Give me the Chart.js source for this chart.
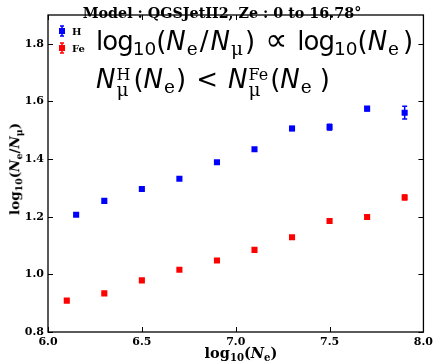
<!DOCTYPE html>
<html><head><meta charset="utf-8">
<script src="https://cdn.jsdelivr.net/npm/chart.js@4"></script>
<style>
html,body{margin:0;padding:0;background:#fff;}
#wrap{position:relative;width:437px;height:363px;overflow:hidden;background:#fff}
canvas{position:absolute;left:0;top:0}
.t{position:absolute;white-space:nowrap;color:#000;line-height:1}
#title{left:0;width:444px;text-align:center;top:5px;font:bold 14.3px "DejaVu Serif";}
.ser{font-family:"DejaVu Serif";font-weight:bold}
.ser .sb{font-size:0.7em;position:relative;top:0.3em}
.ann{font-family:"DejaVu Sans";font-size:26px;line-height:26px;left:96px}
.ann span{line-height:0;display:inline-block}
.ann i{font-style:italic}
.ann .lg{letter-spacing:-1px}
.ann .d{font-size:18.5px;position:relative;top:5px}
.ann .r{font-family:"DejaVu Serif";font-size:18.5px;position:relative;top:5px}
.ann .r2{font-family:"DejaVu Serif";font-size:18.5px;position:relative;top:8px}
.ann .up{font-family:"DejaVu Serif";font-size:16px;position:relative;top:-8px}
.ann .pr{font-size:31px}
#yt{left:15px;top:169px;transform:translate(-50%,-50%) rotate(-90deg);font-size:13.5px}
#xt{left:241px;top:353px;transform:translate(-50%,-50%);font-size:14.5px}
</style></head><body>
<div id="wrap"><canvas id="c" width="437" height="363"></canvas>
<div class="t" id="title">Model : QGSJetII2, Ze : 0 to 16.78°</div>
<div class="t ann" id="a1" style="top:28px"><span class="lg">log</span><span class="d">10</span><span>(</span><i>N</i><span class="r" style="margin-left:1px">e</span><span style="margin-left:2px">/</span><i style="margin-left:2px">N</i><span class="r" style="margin-left:1px">μ</span><span style="margin-left:2px">)</span><span class="pr" style="margin-left:10px">∝</span><span class="lg" style="margin-left:10px">log</span><span class="d">10</span><span>(</span><i>N</i><span class="r" style="margin-left:1px">e</span><span style="margin-left:4px">)</span></div>
<div class="t ann" id="a2" style="top:66px"><i>N</i><span class="r2" style="margin-left:1px">μ</span><span class="up" style="margin-left:-12px">H</span><span style="margin-left:3px">(</span><i>N</i><span class="r" style="margin-left:1px">e</span><span style="margin-left:1px">)</span><span style="margin-left:10px">&lt;</span><i style="margin-left:10px">N</i><span class="r2" style="margin-left:1px">μ</span><span class="up" style="margin-left:-12px">Fe</span><span style="margin-left:2px">(</span><i>N</i><span class="r" style="margin-left:1px">e</span><span style="margin-left:8px">)</span></div>
<div class="t ser" id="yt">log<span class="sb">10</span>(<i>N</i><span class="sb">e</span>/<i>N</i><span class="sb">μ</span>)</div>
<div class="t ser" id="xt">log<span class="sb">10</span>(<i>N</i><span class="sb">e</span>)</div>
</div>
<script>
const seriesNames = ['H', 'Fe'];
const xH  = [6.15, 6.3, 6.5, 6.7, 6.9, 7.1, 7.3, 7.5, 7.7, 7.9];
const yH  = [1.207, 1.255, 1.296, 1.332, 1.389, 1.434, 1.506, 1.511, 1.575, 1.561];
const eH  = [0.004, 0.004, 0.004, 0.004, 0.005, 0.005, 0.007, 0.010, 0.007, 0.022];
const xFe = [6.1, 6.3, 6.5, 6.7, 6.9, 7.1, 7.3, 7.5, 7.7, 7.9];
const yFe = [0.909, 0.934, 0.979, 1.016, 1.048, 1.085, 1.129, 1.185, 1.199, 1.267];
const eFe = [0.003, 0.003, 0.003, 0.003, 0.003, 0.003, 0.004, 0.007, 0.008, 0.008];
const xTicks = [6.0, 6.5, 7.0, 7.5, 8.0];
const yTicks = [0.8, 1.0, 1.2, 1.4, 1.6, 1.8];

const mk = (xs, ys, es) => xs.map((x, i) => ({x: x, y: ys[i], e: es[i]}));

const tickFont = {family: 'DejaVu Serif', weight: 'bold', size: 11};

const frame = {
  id: 'frame',
  beforeDatasetsDraw(chart) {
    const ctx = chart.ctx;
    const xs = chart.scales.x, ys = chart.scales.y;
    chart.data.datasets.forEach(ds => {
      ctx.save();
      ctx.strokeStyle = ds.borderColor;
      ctx.lineWidth = 1.5;
      ds.data.forEach(p => {
        const px = xs.getPixelForValue(p.x);
        const y1 = ys.getPixelForValue(p.y + p.e);
        const y2 = ys.getPixelForValue(p.y - p.e);
        ctx.beginPath();
        ctx.moveTo(px, y1); ctx.lineTo(px, y2);
        ctx.moveTo(px - 2.5, y1); ctx.lineTo(px + 2.5, y1);
        ctx.moveTo(px - 2.5, y2); ctx.lineTo(px + 2.5, y2);
        ctx.stroke();
      });
      ctx.restore();
    });
  },
  afterDraw(chart) {
    const ctx = chart.ctx;
    const a = chart.chartArea;
    const xs = chart.scales.x, ys = chart.scales.y;
    ctx.save();
    ctx.strokeStyle = '#000';
    ctx.lineWidth = 1.3;
    ctx.strokeRect(a.left, a.top, a.right - a.left, a.bottom - a.top);
    ctx.lineWidth = 1;
    ctx.beginPath();
    xTicks.forEach(v => {
      const px = Math.round(xs.getPixelForValue(v)) + 0.5;
      ctx.moveTo(px, a.bottom); ctx.lineTo(px, a.bottom - 5);
      ctx.moveTo(px, a.top); ctx.lineTo(px, a.top + 5);
    });
    yTicks.forEach(v => {
      const py = Math.round(ys.getPixelForValue(v)) + 0.5;
      ctx.moveTo(a.left, py); ctx.lineTo(a.left + 5, py);
      ctx.moveTo(a.right, py); ctx.lineTo(a.right - 5, py);
    });
    ctx.stroke();
    chart.data.datasets.forEach((ds, i) => {
      const lx = a.left + 14, ly = a.top + 16 + i * 17;
      ctx.strokeStyle = ds.borderColor;
      ctx.fillStyle = ds.backgroundColor;
      ctx.lineWidth = 1.5;
      ctx.beginPath();
      ctx.moveTo(lx, ly - 5); ctx.lineTo(lx, ly + 5);
      ctx.moveTo(lx - 2, ly - 5); ctx.lineTo(lx + 2, ly - 5);
      ctx.moveTo(lx - 2, ly + 5); ctx.lineTo(lx + 2, ly + 5);
      ctx.stroke();
      ctx.fillRect(lx - 3, ly - 3, 6, 6);
      ctx.fillStyle = '#000';
      ctx.font = 'bold 10px "DejaVu Serif"';
      ctx.textBaseline = 'middle';
      ctx.fillText(ds.label, lx + 10, ly + 1);
    });
    ctx.restore();
  }
};

new Chart(document.getElementById('c'), {
  type: 'scatter',
  data: {
    datasets: [
      {label: seriesNames[0], data: mk(xH, yH, eH), backgroundColor: '#0000ff', borderColor: '#0000ff', pointStyle: 'rect', pointRadius: 4.3, pointBorderWidth: 0},
      {label: seriesNames[1], data: mk(xFe, yFe, eFe), backgroundColor: '#ff0000', borderColor: '#ff0000', pointStyle: 'rect', pointRadius: 4.3, pointBorderWidth: 0}
    ]
  },
  options: {
    responsive: false,
    animation: false,
    events: [],
    layout: {padding: {left: 0, right: 11, top: 15, bottom: 0}},
    plugins: {legend: {display: false}, tooltip: {enabled: false}, title: {display: false}},
    scales: {
      x: {
        type: 'linear', min: 6.0, max: 8.0,
        afterBuildTicks: s => { s.ticks = xTicks.map(v => ({value: v})); },
        afterFit: s => { s.height = 31; },
        grid: {display: false, drawTicks: false},
        border: {display: false},
        ticks: {font: tickFont, color: '#000', padding: 4, maxRotation: 0, callback: v => v.toFixed(1)}
      },
      y: {
        type: 'linear', min: 0.8, max: 1.9,
        afterBuildTicks: s => { s.ticks = yTicks.map(v => ({value: v})); },
        afterFit: s => { s.width = 48; },
        grid: {display: false, drawTicks: false},
        border: {display: false},
        ticks: {font: tickFont, color: '#000', padding: 4, callback: v => v.toFixed(1)}
      }
    }
  },
  plugins: [frame]
});
</script>
</body></html>
